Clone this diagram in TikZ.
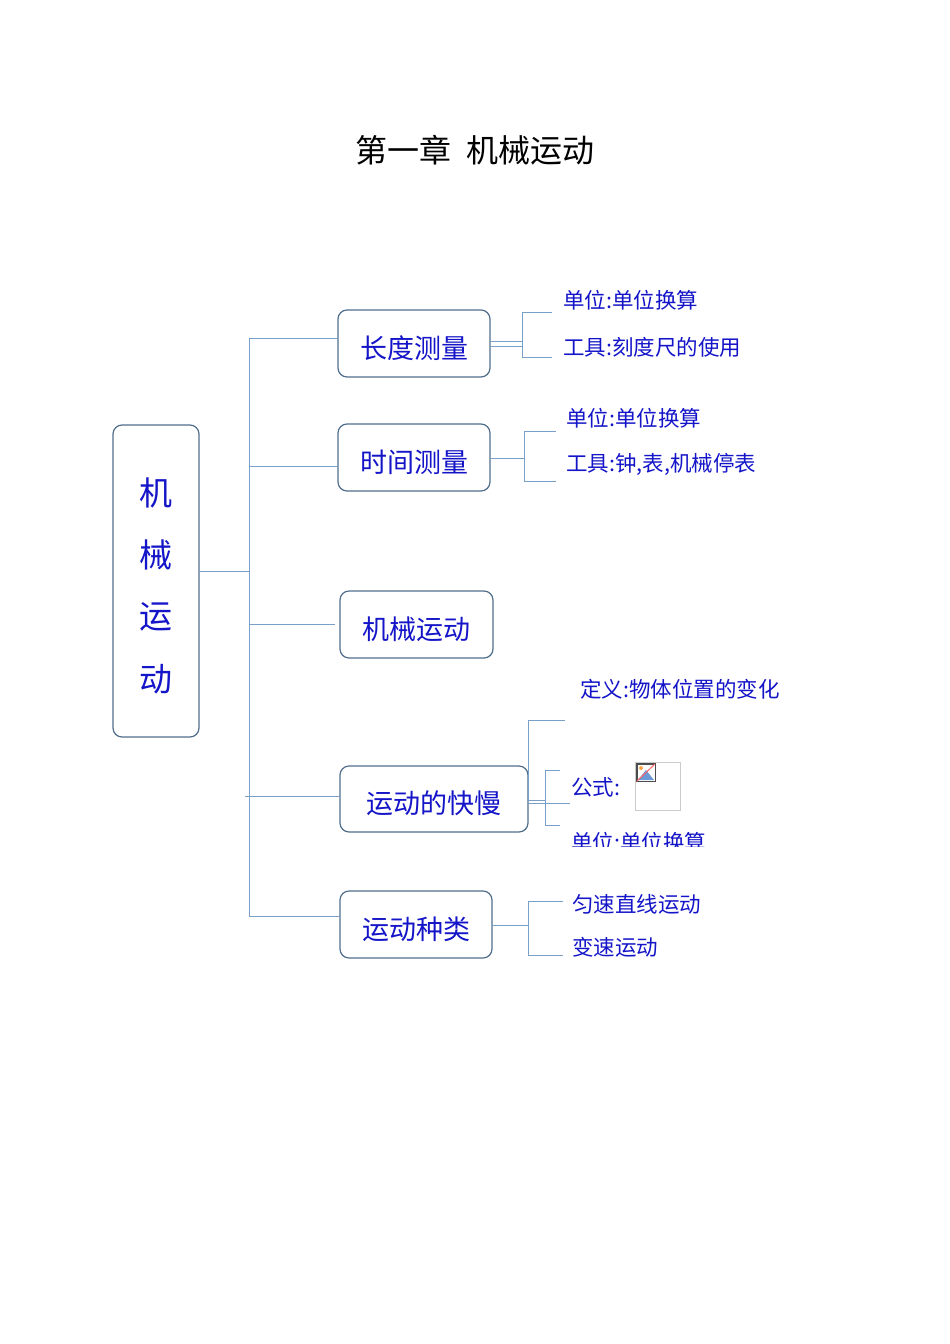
\documentclass[tikz,border=0pt]{standalone}
\usepackage{fontspec}
\setmainfont{Noto Sans CJK SC}
\begin{document}
\begin{tikzpicture}[x=1pt,y=-1pt,
  ln/.style={draw=lnc,line width=0.9pt},
  bx/.style={draw=bxc,line width=1.2pt,rounded corners=9pt,fill=white},
  bt/.style={text=txc,font=\fontsize{27}{29}\selectfont},
  lt/.style={text=txc,font=\fontsize{21.5}{23}\selectfont,anchor=west,inner sep=0}]
\definecolor{lnc}{RGB}{120,160,200}
\definecolor{bxc}{RGB}{80,110,140}
\definecolor{txc}{RGB}{20,20,200}
\useasboundingbox (0,0) rectangle (950,1344);
\node[font=\fontsize{32}{34}\selectfont] (title) at (475,150) {第一章\ \ 机械运动};
% trunk
\coordinate (t1) at (249,338); \coordinate (t5) at (249,916);
\draw[ln] (t1) -- (t5);
% root
\draw[bx] (113,425) rectangle (199,737);
\node (root) at (156,581) {};
\foreach \c/\y in {机/493,械/555,运/617,动/679}
  \node[text=txc,font=\fontsize{33}{35}\selectfont] at (156,\y) {\c};
\coordinate (r) at (199,571);
\draw[ln] (r) -- (249,571);
% boxes
\draw[bx] (338,310) rectangle (490,377); \node[bt] (b1) at (414,348) {长度测量};
\draw[bx] (338,424) rectangle (490,491); \node[bt] (b2) at (414,462) {时间测量};
\draw[bx] (340,591) rectangle (493,658); \node[bt] (b3) at (416,629) {机械运动};
\draw[bx] (340,766) rectangle (528,832); \node[bt] (b4) at (434,803) {运动的快慢};
\draw[bx] (340,891) rectangle (492,958); \node[bt] (b5) at (416,929) {运动种类};
\draw[ln] (249,338) -- (338,338);
\draw[ln] (249,466) -- (338,466);
\draw[ln] (249,624) -- (335,624);
\draw[ln] (245,796) -- (340,796);
\draw[ln] (249,916) -- (340,916);
% box1 leaves
\draw[ln] (490,341) -- (522,341); \draw[ln] (490,346) -- (522,346);
\draw[ln] (552,312) -- (522,312) -- (522,357) -- (552,357);
\node[lt] (l11) at (563,300) {单位:单位换算};
\node[lt] (l12) at (563,347) {工具:刻度尺的使用};
% box2 leaves
\draw[ln] (490,458) -- (524,458);
\draw[ln] (556,431) -- (524,431) -- (524,481) -- (556,481);
\node[lt] (l21) at (566,418) {单位:单位换算};
\node[lt] (l22) at (566,464) {工具:钟,表,机械停表};
% box4 leaves
\draw[ln] (528,800) -- (545,800);
\draw[ln] (528,803) -- (570,803);
\draw[ln] (528,800) -- (528,720) -- (565,720);
\draw[ln] (560,770) -- (545,770) -- (545,825) -- (560,825);
\node[lt] (l41) at (580,689) {定义:物体位置的变化};
\node[lt] (l42) at (571,787) {公式:};
\draw[draw=black!20,line width=0.6pt] (635,762) rectangle (680,810);
\fill[black!70] (636,763) rectangle (656,782);
\fill[white] (637.5,764.5) rectangle (654.5,780.5);
\fill[cyan!50!blue!60] (638,780) -- (646,770) -- (654,780) -- cycle;
\draw[red!60,line width=1pt] (637,781) -- (655,764);
\fill[orange!70] (641,768) circle (2);
\begin{scope}
\clip (560,826) rectangle (760,846);
\node[lt] (l43) at (571,842) {单位:单位换算};
\end{scope}
% box5 leaves
\draw[ln] (492,925) -- (528,925);
\draw[ln] (563,901) -- (528,901) -- (528,955) -- (563,955);
\node[lt] (l51) at (572,904) {匀速直线运动};
\node[lt] (l52) at (572,947) {变速运动};
\end{tikzpicture}
\end{document}
